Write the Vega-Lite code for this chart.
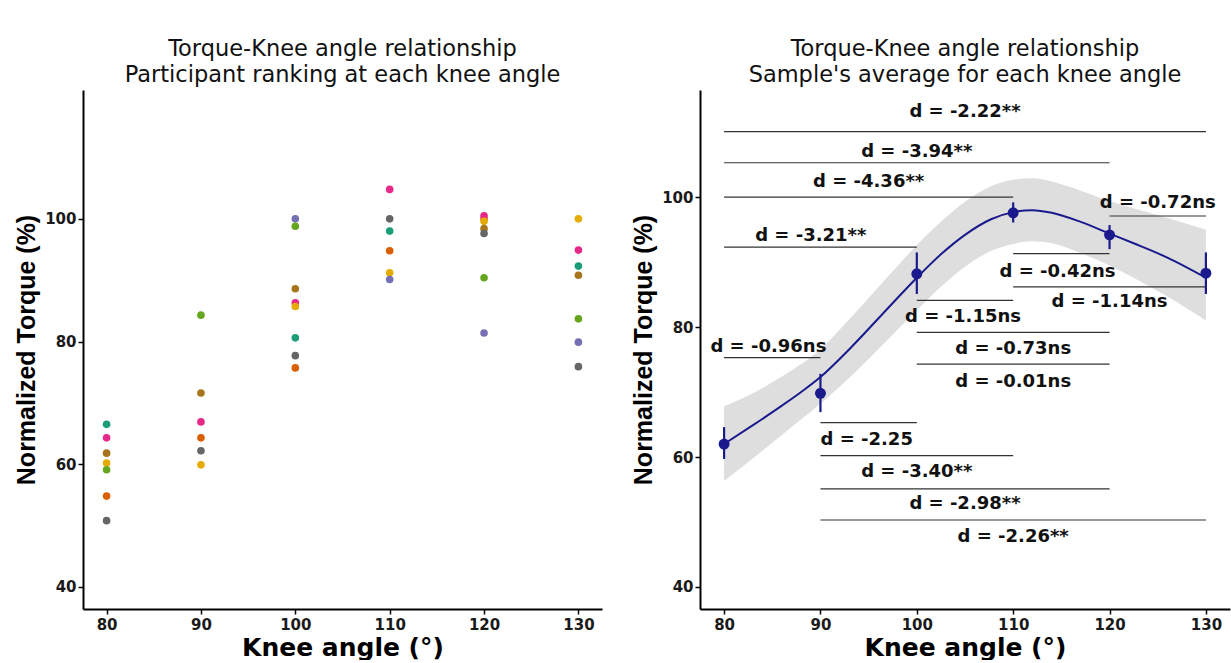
{
  "$schema": "https://vega.github.io/schema/vega-lite/v6.json",
  "background": "white",
  "padding": {"left": 14, "top": 37, "right": 2, "bottom": 0},
  "spacing": 29,
  "config": {
    "view": {"stroke": null},
    "font": "DejaVu Sans",
    "axis": {
      "grid": false,
      "domainColor": "black",
      "domainWidth": 2,
      "tickColor": "black",
      "tickWidth": 1.5,
      "tickSize": 5,
      "labelFont": "DejaVu Sans",
      "labelFontWeight": "bold",
      "labelFontSize": 15,
      "labelColor": "#1a1a1a",
      "titleColor": "black",
      "titleFontWeight": "bold"
    },
    "axisX": {"labelPadding": 3, "titlePadding": 3, "titleFont": "DejaVu Sans", "titleFontSize": 25},
    "axisY": {"labelPadding": 2, "titlePadding": 5, "titleFont": "Liberation Sans", "titleFontSize": 25},
    "title": {"font": "DejaVu Sans", "fontSize": 22.5, "fontWeight": "normal", "color": "#111111", "anchor": "middle", "frame": "group", "lineHeight": 26, "offset": 4}
  },
  "datasets": {
    "participants": [
      {"angle": 80, "participant": "P1", "torque": 66.5},
      {"angle": 80, "participant": "P4", "torque": 64.3},
      {"angle": 80, "participant": "P7", "torque": 61.8},
      {"angle": 80, "participant": "P6", "torque": 60.2},
      {"angle": 80, "participant": "P5", "torque": 59.1},
      {"angle": 80, "participant": "P2", "torque": 54.8},
      {"angle": 80, "participant": "P8", "torque": 50.8},
      {"angle": 90, "participant": "P5", "torque": 84.3},
      {"angle": 90, "participant": "P7", "torque": 71.6},
      {"angle": 90, "participant": "P4", "torque": 66.9},
      {"angle": 90, "participant": "P2", "torque": 64.3},
      {"angle": 90, "participant": "P8", "torque": 62.2},
      {"angle": 90, "participant": "P6", "torque": 59.9},
      {"angle": 100, "participant": "P3", "torque": 100.0},
      {"angle": 100, "participant": "P5", "torque": 98.8},
      {"angle": 100, "participant": "P7", "torque": 88.6},
      {"angle": 100, "participant": "P4", "torque": 86.3},
      {"angle": 100, "participant": "P6", "torque": 85.7},
      {"angle": 100, "participant": "P1", "torque": 80.6},
      {"angle": 100, "participant": "P8", "torque": 77.7},
      {"angle": 100, "participant": "P2", "torque": 75.7},
      {"angle": 110, "participant": "P4", "torque": 104.8},
      {"angle": 110, "participant": "P8", "torque": 100.0},
      {"angle": 110, "participant": "P1", "torque": 98.0},
      {"angle": 110, "participant": "P2", "torque": 94.8},
      {"angle": 110, "participant": "P6", "torque": 91.2},
      {"angle": 110, "participant": "P3", "torque": 90.1},
      {"angle": 120, "participant": "P2", "torque": 100.0},
      {"angle": 120, "participant": "P4", "torque": 100.5},
      {"angle": 120, "participant": "P6", "torque": 99.6},
      {"angle": 120, "participant": "P7", "torque": 98.4},
      {"angle": 120, "participant": "P8", "torque": 97.6},
      {"angle": 120, "participant": "P5", "torque": 90.4},
      {"angle": 120, "participant": "P3", "torque": 81.4},
      {"angle": 130, "participant": "P6", "torque": 100.0},
      {"angle": 130, "participant": "P4", "torque": 94.9},
      {"angle": 130, "participant": "P1", "torque": 92.3},
      {"angle": 130, "participant": "P7", "torque": 90.8},
      {"angle": 130, "participant": "P5", "torque": 83.7},
      {"angle": 130, "participant": "P3", "torque": 79.9},
      {"angle": 130, "participant": "P8", "torque": 75.9}
    ],
    "means": [
      {"angle": 80, "mean": 62.0, "lo": 59.7, "hi": 64.6},
      {"angle": 90, "mean": 69.8, "lo": 66.9, "hi": 72.8},
      {"angle": 100, "mean": 88.2, "lo": 85.1, "hi": 91.5},
      {"angle": 110, "mean": 97.6, "lo": 96.1, "hi": 99.2},
      {"angle": 120, "mean": 94.2, "lo": 92.0, "hi": 95.7},
      {"angle": 130, "mean": 88.3, "lo": 85.1, "hi": 91.5}
    ],
    "curve": [
      {"angle": 80, "fit": 62.0, "lo": 56.3, "hi": 67.8},
      {"angle": 83, "fit": 64.9, "lo": 59.8, "hi": 69.8},
      {"angle": 86, "fit": 67.9, "lo": 63.4, "hi": 72.4},
      {"angle": 88, "fit": 70.0, "lo": 65.8, "hi": 74.3},
      {"angle": 90, "fit": 72.3, "lo": 68.2, "hi": 76.6},
      {"angle": 93, "fit": 76.6, "lo": 72.2, "hi": 81.2},
      {"angle": 97, "fit": 82.9, "lo": 78.1, "hi": 87.8},
      {"angle": 100, "fit": 87.6, "lo": 82.6, "hi": 92.6},
      {"angle": 102.5, "fit": 91.2, "lo": 86.2, "hi": 96.2},
      {"angle": 105, "fit": 94.2, "lo": 89.3, "hi": 99.3},
      {"angle": 107.7, "fit": 96.6, "lo": 91.7, "hi": 101.7},
      {"angle": 110, "fit": 97.7, "lo": 92.8, "hi": 102.7},
      {"angle": 112, "fit": 98.0, "lo": 93.2, "hi": 102.9},
      {"angle": 114, "fit": 97.6, "lo": 92.9, "hi": 102.4},
      {"angle": 117, "fit": 96.2, "lo": 91.4, "hi": 101.0},
      {"angle": 120, "fit": 94.4, "lo": 89.5, "hi": 99.4},
      {"angle": 122.5, "fit": 92.9, "lo": 87.6, "hi": 98.3},
      {"angle": 126, "fit": 90.7, "lo": 84.7, "hi": 96.8},
      {"angle": 130, "fit": 87.6, "lo": 81.0, "hi": 95.0}
    ],
    "effects": [
      {"x1": 80, "x2": 130, "ypos": 110.1, "tx": 105, "ty": 113.1, "label": "d = -2.22**"},
      {"x1": 80, "x2": 120, "ypos": 105.3, "tx": 100, "ty": 106.9, "label": "d = -3.94**"},
      {"x1": 80, "x2": 110, "ypos": 100.0, "tx": 95, "ty": 102.3, "label": "d = -4.36**"},
      {"x1": 120, "x2": 130, "ypos": 97.1, "tx": 125, "ty": 99.1, "label": "d = -0.72ns"},
      {"x1": 80, "x2": 100, "ypos": 92.3, "tx": 89, "ty": 94.1, "label": "d = -3.21**"},
      {"x1": 110, "x2": 120, "ypos": 91.3, "tx": 114.6, "ty": 88.5, "label": "d = -0.42ns"},
      {"x1": 110, "x2": 130, "ypos": 86.2, "tx": 120, "ty": 83.8, "label": "d = -1.14ns"},
      {"x1": 100, "x2": 110, "ypos": 84.1, "tx": 104.8, "ty": 81.5, "label": "d = -1.15ns"},
      {"x1": 100, "x2": 120, "ypos": 79.2, "tx": 110, "ty": 76.7, "label": "d = -0.73ns"},
      {"x1": 100, "x2": 120, "ypos": 74.3, "tx": 110, "ty": 71.5, "label": "d = -0.01ns"},
      {"x1": 80, "x2": 90, "ypos": 75.3, "tx": 84.6, "ty": 76.9, "label": "d = -0.96ns"},
      {"x1": 90, "x2": 100, "ypos": 65.3, "tx": 94.8, "ty": 62.6, "label": "d = -2.25"},
      {"x1": 90, "x2": 110, "ypos": 60.2, "tx": 100, "ty": 57.7, "label": "d = -3.40**"},
      {"x1": 90, "x2": 120, "ypos": 55.1, "tx": 105, "ty": 52.8, "label": "d = -2.98**"},
      {"x1": 90, "x2": 130, "ypos": 50.3, "tx": 110, "ty": 47.7, "label": "d = -2.26**"}
    ]
  },
  "hconcat": [
    {
      "width": 519,
      "height": 519,
      "title": {"text": ["\u00a0Torque-Knee angle relationship", "\u00a0\u00a0\u00a0\u00a0Participant ranking at each knee angle"]},
      "layer": [
        {
          "data": {"name": "participants"},
          "mark": {"type": "circle", "size": 58, "opacity": 1},
          "encoding": {
            "x": {"field": "angle", "type": "quantitative", "scale": {"domain": [77.5, 132.5], "nice": false, "zero": false}, "axis": {"values": [80, 90, 100, 110, 120, 130], "format": "d", "title": "Knee angle (°)"}},
            "y": {"field": "torque", "type": "quantitative", "scale": {"domain": [36.4, 121], "nice": false, "zero": false}, "axis": {"values": [40, 60, 80, 100], "format": "d", "title": "Normalized Torque (%)"}},
            "color": {"field": "participant", "type": "nominal", "scale": {"domain": ["P1", "P2", "P3", "P4", "P5", "P6", "P7", "P8"], "range": ["#1B9E77", "#D95F02", "#7570B3", "#E7298A", "#66A61E", "#E6AB02", "#A6761D", "#666666"]}, "legend": null}
          }
        },
        {
          "mark": {"type": "text", "align": "left", "baseline": "middle", "font": "DejaVu Sans", "fontWeight": "bold", "fontSize": 18, "color": "#111111"},
          "encoding": {
            "x": {"datum": 77.78, "type": "quantitative"},
            "y": {"datum": 118.4, "type": "quantitative"},
            "text": {"value": "F(5, 40) = 27.43, p < 0.001"}
          }
        }
      ]
    },
    {
      "width": 530,
      "height": 519,
      "title": {"text": ["Torque-Knee angle relationship\u00a0\u00a0\u00a0\u00a0", "\u00a0\u00a0\u00a0\u00a0\u00a0\u00a0Sample's average for each knee angle"]},
      "layer": [
        {
          "data": {"name": "curve"},
          "mark": {"type": "area", "color": "#DEDEDE", "opacity": 1, "interpolate": "monotone"},
          "encoding": {
            "x": {"field": "angle", "type": "quantitative", "scale": {"domain": [77.5, 132.5], "nice": false, "zero": false}, "axis": {"values": [80, 90, 100, 110, 120, 130], "format": "d", "title": "Knee angle (°)"}},
            "y": {"field": "lo", "type": "quantitative", "scale": {"domain": [36.6, 116.5], "nice": false, "zero": false}, "axis": {"values": [40, 60, 80, 100], "format": "d", "title": "Normalized Torque (%)"}},
            "y2": {"field": "hi"}
          }
        },
        {
          "data": {"name": "effects"},
          "mark": {"type": "rule", "color": "#333333", "strokeWidth": 1.2},
          "encoding": {
            "x": {"field": "x1", "type": "quantitative"},
            "x2": {"field": "x2"},
            "y": {"field": "ypos", "type": "quantitative"}
          }
        },
        {
          "data": {"name": "curve"},
          "mark": {"type": "line", "color": "#1a1a8c", "strokeWidth": 2, "interpolate": "monotone"},
          "encoding": {
            "x": {"field": "angle", "type": "quantitative"},
            "y": {"field": "fit", "type": "quantitative"}
          }
        },
        {
          "data": {"name": "means"},
          "mark": {"type": "rule", "color": "#1a1a8c", "strokeWidth": 2.2},
          "encoding": {
            "x": {"field": "angle", "type": "quantitative"},
            "y": {"field": "lo", "type": "quantitative"},
            "y2": {"field": "hi"}
          }
        },
        {
          "data": {"name": "means"},
          "mark": {"type": "circle", "size": 120, "opacity": 1, "color": "#1a1a8c"},
          "encoding": {
            "x": {"field": "angle", "type": "quantitative"},
            "y": {"field": "mean", "type": "quantitative"}
          }
        },
        {
          "data": {"name": "effects"},
          "mark": {"type": "text", "align": "center", "baseline": "middle", "font": "DejaVu Sans", "fontWeight": "bold", "fontSize": 18, "color": "#111111"},
          "encoding": {
            "x": {"field": "tx", "type": "quantitative"},
            "y": {"field": "ty", "type": "quantitative"},
            "text": {"field": "label", "type": "nominal"}
          }
        }
      ]
    }
  ]
}
